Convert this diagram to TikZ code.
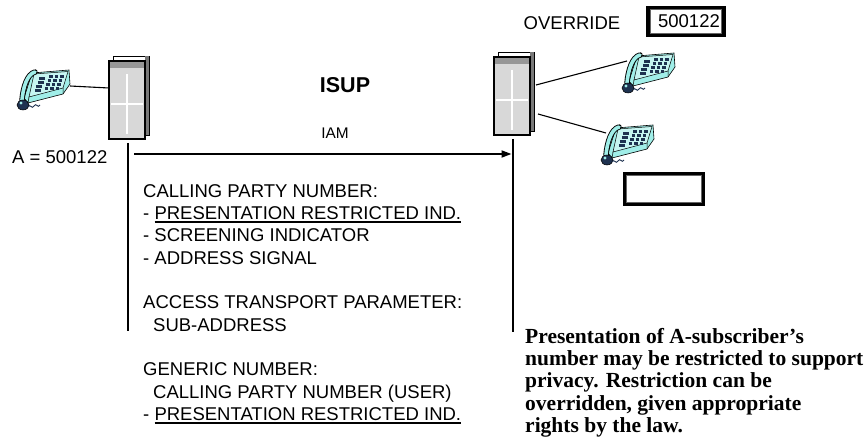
\documentclass[tikz,border=0pt]{standalone}
\usepackage{fontspec}
\setmainfont{Liberation Sans}
\newfontfamily\notefont{Liberation Serif}
\usetikzlibrary{arrows.meta}
\definecolor{phonecyan}{RGB}{160,238,232}
\definecolor{keydark}{RGB}{30,50,80}
\definecolor{exfill}{RGB}{216,216,216}
\definecolor{exband}{RGB}{150,150,150}
\definecolor{exshade}{RGB}{120,120,120}
\newcommand\ulx[1]{\setbox0\hbox{#1}\rlap{\rule[-3.2pt]{\wd0}{1.4pt}}\box0}
\tikzset{
  txt/.style={inner sep=0pt, font=\fontsize{18.5}{22.3}\selectfont},
  txtl/.style={txt, anchor=base west},
  note/.style={inner sep=0pt, anchor=base west, font=\notefont\bfseries\fontsize{21.5}{22}\selectfont},
  wire/.style={line width=1.1pt},
  vline/.style={line width=2pt},
  msg/.style={line width=1.8pt, -{Triangle[length=10pt,width=7pt]}},
  dblbox/.style={draw, line width=3.5pt, fill=white, inner sep=0pt},
  innerline/.style={draw=gray!80!black, line width=1.1pt},
  exch/.pic={
    \filldraw[fill=white, draw=black, line width=0.6pt] (4,-5) rectangle (40,74);
    \fill[exshade] (36,-4.6) rectangle (39.7,73.7);
    \filldraw[fill=exfill, draw=black, line width=2pt] (0,0) rectangle (36,78);
    \fill[exband] (1,1) rectangle (35,7);
    \draw[white, line width=1.6pt] (18,13) -- (18,73);
    \draw[white, line width=1.6pt] (2,43) -- (34,43);
    \coordinate (-w) at (0,27);
    \coordinate (-e1) at (42,28);
    \coordinate (-e2) at (44,57);
    \coordinate (-bot) at (18.5,82);
  },
  phone/.pic={
    \filldraw[fill=phonecyan, draw=black, line width=0.6pt] (19,3) -- (56,0) -- (57,14) -- (50,24) -- (15,33) -- (11,28) -- cycle;
    \filldraw[fill=phonecyan!60!white, draw=black, line width=0.5pt] (21,4) -- (55,1.5) -- (50,18) -- (16,27) -- cycle;
    \draw[line width=0.5pt] (16,27) -- (15,33) (50,18) -- (50,24);
    \foreach \i in {0,...,3} \foreach \j in {0,1,2}
      \fill[keydark] ({36+5.5*\j-1.5*\i},{5+4*\i}) rectangle ++(3.5,2.6);
    \foreach \i in {0,...,3}
      \fill[keydark] ({26-1.5*\i},{7+4*\i}) rectangle ++(6,2.6);
    \draw[black, line width=5.4pt, line cap=round] (22,2) .. controls (14,4) and (10,18) .. (9,30);
    \draw[phonecyan, line width=3.6pt, line cap=round] (22,2) .. controls (14,4) and (10,18) .. (9,30);
    \filldraw[fill=keydark, draw=black, line width=0.5pt] (10,35) ellipse (6 and 5);
    \fill[phonecyan] (8,33) circle (1.6);
    \draw[keydark, line width=0.9pt] (15,37) .. controls (17,33) and (19,40) .. (21,36) .. controls (23,32) and (25,39) .. (27,35);
    \coordinate (-r) at (57,16);
    \coordinate (-l) at (9,8);
  }
}
\begin{document}
\begin{tikzpicture}[x=1pt,y=-1pt]
\useasboundingbox (0,0) rectangle (868,438);
% exchanges and phones
\pic (exL) at (109,61) {exch};
\pic (exR) at (494,57) {exch};
\pic (phL) at (13,70) {phone};
\pic (phRa) at (618,53) {phone};
\pic (phRb) at (597,125) {phone};
\draw[wire] (phL-r) -- (exL-w);
\draw[wire] (exR-e1) -- (phRa-l);
\draw[wire] (exR-e2) -- (phRb-l);
% signalling lines
\coordinate (lvend) at (127.5,331);
\coordinate (rvend) at (512.5,332);
\draw[vline] (exL-bot) -- (lvend);
\draw[vline] (exR-bot) -- (rvend);
\coordinate (iamL) at (134,154);
\draw[msg, shorten >=1pt] (iamL) -- (iamL -| exR-bot);
% labels
\node[inner sep=0pt, font=\bfseries\fontsize{21.5}{24}\selectfont] (isup) at (345,85) {ISUP};
\node[inner sep=0pt, font=\fontsize{15.4}{18}\selectfont] (iam) at (335,133) {IAM};
\node[txt, anchor=west] (aval) at (12,157) {A = 500122};
\node[txt] (ovr) at (572,23) {OVERRIDE};
\node[dblbox, txt, draw, line width=3.5pt, minimum width=76pt, minimum height=28pt] (ovbox) at (686,21.5) {\hspace{6pt}500122};
\draw[innerline] ([xshift=4pt,yshift=-4pt]ovbox.north west) rectangle ([xshift=-4pt,yshift=4pt]ovbox.south east);
\node[dblbox, minimum width=79pt, minimum height=31pt] (empty) at (664,189) {};
\draw[innerline] ([xshift=4pt,yshift=-4pt]empty.north west) rectangle ([xshift=-4pt,yshift=4pt]empty.south east);
% parameter list
\node[txtl] (p1) at (143,197.4) {CALLING PARTY NUMBER:};
\node[txtl] (p2) at (143,219.7) {- \ulx{PRESENTATION RESTRICTED IND.}};
\node[txtl] (p3) at (143,242) {- SCREENING INDICATOR};
\node[txtl] (p4) at (143,264.3) {- ADDRESS SIGNAL};
\node[txtl] (p5) at (143,308.9) {ACCESS TRANSPORT PARAMETER:};
\node[txtl] (p6) at (153,331.2) {SUB-ADDRESS};
\node[txtl] (p7) at (143,375.8) {GENERIC NUMBER:};
\node[txtl] (p8) at (153,398.1) {CALLING PARTY NUMBER (USER)};
\node[txtl] (p9) at (143,420.4) {- \ulx{PRESENTATION RESTRICTED IND.}};
% note
\node[note] (n1) at (525,344) {Presentation of A-subscriber’s};
\node[note] (n2) at (525,366) {number may be restricted to support};
\node[note] (n3) at (525,388) {privacy. Restriction can be};
\node[note] (n4) at (525,410) {overridden, given appropriate};
\node[note] (n5) at (525,432) {rights by the law.};
\end{tikzpicture}
\end{document}
